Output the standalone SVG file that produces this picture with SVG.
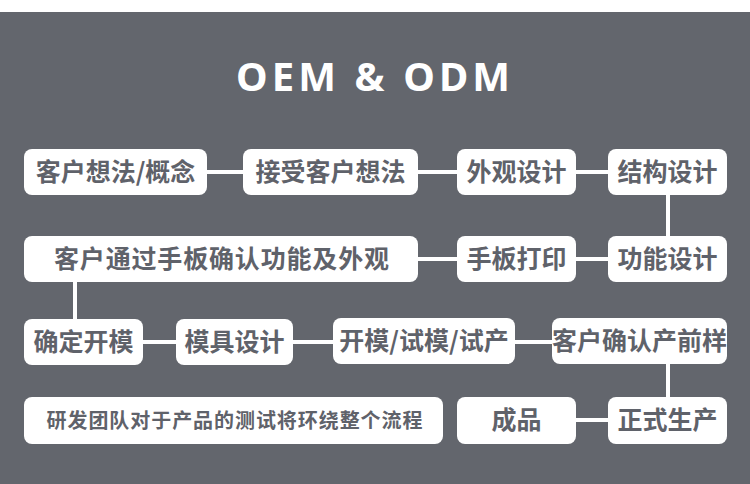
<svg xmlns="http://www.w3.org/2000/svg" width="750" height="484" viewBox="0 0 750 484">
<style>
.bg{fill:#63666d}
.box{fill:#ffffff}
.t{font-family:"Noto Sans CJK SC","Noto Sans",sans-serif;font-weight:700;font-size:25px;fill:#5f626a;text-anchor:middle}
.small{font-size:20px}
.title{font-family:"Noto Sans","Noto Sans CJK SC",sans-serif;font-weight:700;font-size:40px;fill:#ffffff;text-anchor:middle}
.c line{stroke:#ffffff;stroke-width:4}
</style>
<rect x="0" y="0" width="750" height="484" fill="#ffffff"/>
<rect class="bg" x="0" y="12" width="750" height="472"/>
<text class="title" x="373" y="91" textLength="274" lengthAdjust="spacing">OEM &amp; ODM</text>
<g class="c" id="connectors">
<line x1="205" y1="172" x2="245" y2="172"/>
<line x1="416" y1="172" x2="459" y2="172"/>
<line x1="574" y1="172" x2="610" y2="172"/>
<line x1="668" y1="193" x2="668" y2="238"/>
<line x1="416" y1="259" x2="459" y2="259"/>
<line x1="574" y1="259" x2="610" y2="259"/>
<line x1="75" y1="280" x2="75" y2="321"/>
<line x1="141" y1="342" x2="178" y2="342"/>
<line x1="291" y1="342" x2="335" y2="342"/>
<line x1="513" y1="342" x2="554" y2="342"/>
<line x1="668" y1="362" x2="668" y2="399"/>
<line x1="574" y1="420" x2="610" y2="420"/>
</g>
<g id="n1"><rect class="box" x="24" y="149" width="183" height="46" rx="8"/><text class="t" x="115.5" y="181">客户想法/概念</text></g>
<g id="n2"><rect class="box" x="243" y="149" width="175" height="46" rx="8"/><text class="t" x="330.5" y="181">接受客户想法</text></g>
<g id="n3"><rect class="box" x="457" y="149" width="119" height="46" rx="8"/><text class="t" x="516.5" y="181">外观设计</text></g>
<g id="n4"><rect class="box" x="608" y="149" width="119" height="46" rx="8"/><text class="t" x="667.5" y="181">结构设计</text></g>
<g id="n5"><rect class="box" x="608" y="236" width="119" height="46" rx="8"/><text class="t" x="667.5" y="268">功能设计</text></g>
<g id="n6"><rect class="box" x="457" y="236" width="119" height="46" rx="8"/><text class="t" x="516.5" y="268">手板打印</text></g>
<g id="n7"><rect class="box" x="24" y="236" width="394" height="46" rx="8"/><text class="t" x="221.5" y="268" textLength="335" lengthAdjust="spacing">客户通过手板确认功能及外观</text></g>
<g id="n8"><rect class="box" x="24" y="319" width="119" height="46" rx="8"/><text class="t" x="83.5" y="351">确定开模</text></g>
<g id="n9"><rect class="box" x="176" y="319" width="117" height="46" rx="8"/><text class="t" x="234.5" y="351">模具设计</text></g>
<g id="n10"><rect class="box" x="333" y="318" width="182" height="46" rx="8"/><text class="t" x="424" y="350">开模/试模/试产</text></g>
<g id="n11"><rect class="box" x="552" y="318" width="175" height="46" rx="8"/><text class="t" x="639.5" y="350">客户确认产前样</text></g>
<g id="n12"><rect class="box" x="608" y="397" width="119" height="47" rx="8"/><text class="t" x="667.5" y="429">正式生产</text></g>
<g id="n13"><rect class="box" x="457" y="397" width="119" height="47" rx="8"/><text class="t" x="516.5" y="429">成品</text></g>
<g id="n14"><rect class="box" x="24" y="397" width="419" height="47" rx="8"/><text class="t small" x="234.5" y="428" textLength="376" lengthAdjust="spacing">研发团队对于产品的测试将环绕整个流程</text></g>
</svg>
